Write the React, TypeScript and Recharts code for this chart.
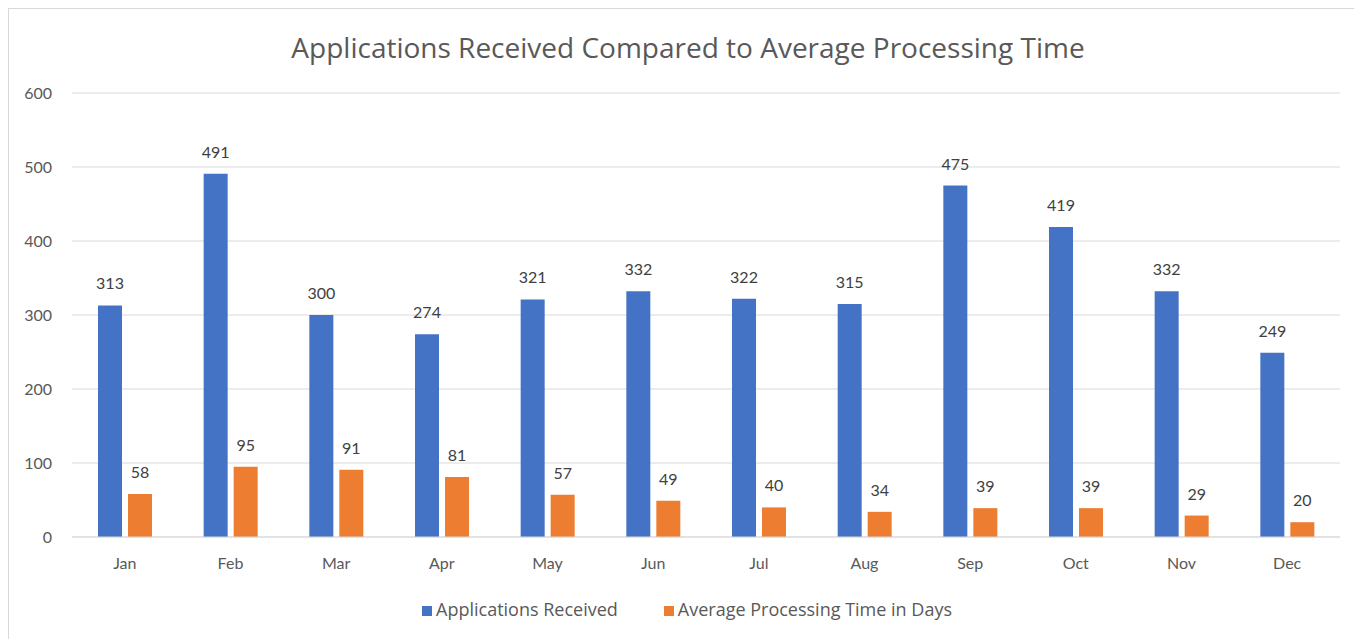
import { Bar, BarChart, CartesianGrid, LabelList, Legend, XAxis, YAxis } from 'recharts';

const months = ['Jan', 'Feb', 'Mar', 'Apr', 'May', 'Jun', 'Jul', 'Aug', 'Sep', 'Oct', 'Nov', 'Dec'];
const applicationsReceived = [313, 491, 300, 274, 321, 332, 322, 315, 475, 419, 332, 249];
const avgProcessingDays = [58, 95, 91, 81, 57, 49, 40, 34, 39, 39, 29, 20];
const yTicks = [0, 100, 200, 300, 400, 500, 600];

const data = months.map((month, i) => ({
  month,
  received: applicationsReceived[i],
  days: avgProcessingDays[i]
}));

const font = 'Lato, "Open Sans", sans-serif';
const wideFont = '"Open Sans", Lato, sans-serif';

function App() {
  return (
    <div
      style={{
        position: 'relative',
        width: 1346,
        height: 640,
        border: '1px solid #d9d9d9',
        fontFamily: font,
        background: '#fff'
      }}
    >
      <div
        style={{
          position: 'absolute',
          top: 19,
          left: 6,
          width: '100%',
          textAlign: 'center',
          fontSize: 28,
          color: '#595959',
          fontFamily: wideFont
        }}
      >
        Applications Received Compared to Average Processing Time
      </div>
      <BarChart
        width={1346}
        height={630}
        data={data}
        margin={{ top: 84, right: 15, left: 13, bottom: 0 }}
        barSize={24}
        barGap={6}
      >
        <CartesianGrid vertical={false} stroke='#d9d9d9' />
        <XAxis
          dataKey='month'
          axisLine={{ stroke: '#d9d9d9' }}
          tickLine={false}
          tickSize={0}
          tickMargin={21}
          height={60}
          tick={{ fill: '#595959', fontSize: 16, fontFamily: font }}
        />
        <YAxis
          domain={[0, 600]}
          ticks={yTicks}
          axisLine={false}
          tickLine={false}
          tickSize={0}
          tickMargin={20}
          width={50}
          tick={{ fill: '#595959', fontSize: 16, fontFamily: font }}
        />
        <Legend
          verticalAlign='bottom'
          iconType='square'
          iconSize={10}
          height={42}
          wrapperStyle={{ fontSize: 18, fontFamily: wideFont, color: '#595959', left: 24 }}
          formatter={(value: string, _entry: unknown, index: number) => (
            <span style={{ color: '#595959', marginRight: index === 0 ? 36 : 0 }}>{value}</span>
          )}
        />
        <Bar dataKey='received' name='Applications Received' fill='#4472C4' isAnimationActive={false}>
          <LabelList dataKey='received' position='top' offset={16} fill='#404040' fontSize={16} fontFamily={font} />
        </Bar>
        <Bar dataKey='days' name='Average Processing Time in Days' fill='#ED7D31' isAnimationActive={false}>
          <LabelList dataKey='days' position='top' offset={16} fill='#404040' fontSize={16} fontFamily={font} />
        </Bar>
      </BarChart>
    </div>
  );
}

export default App;
